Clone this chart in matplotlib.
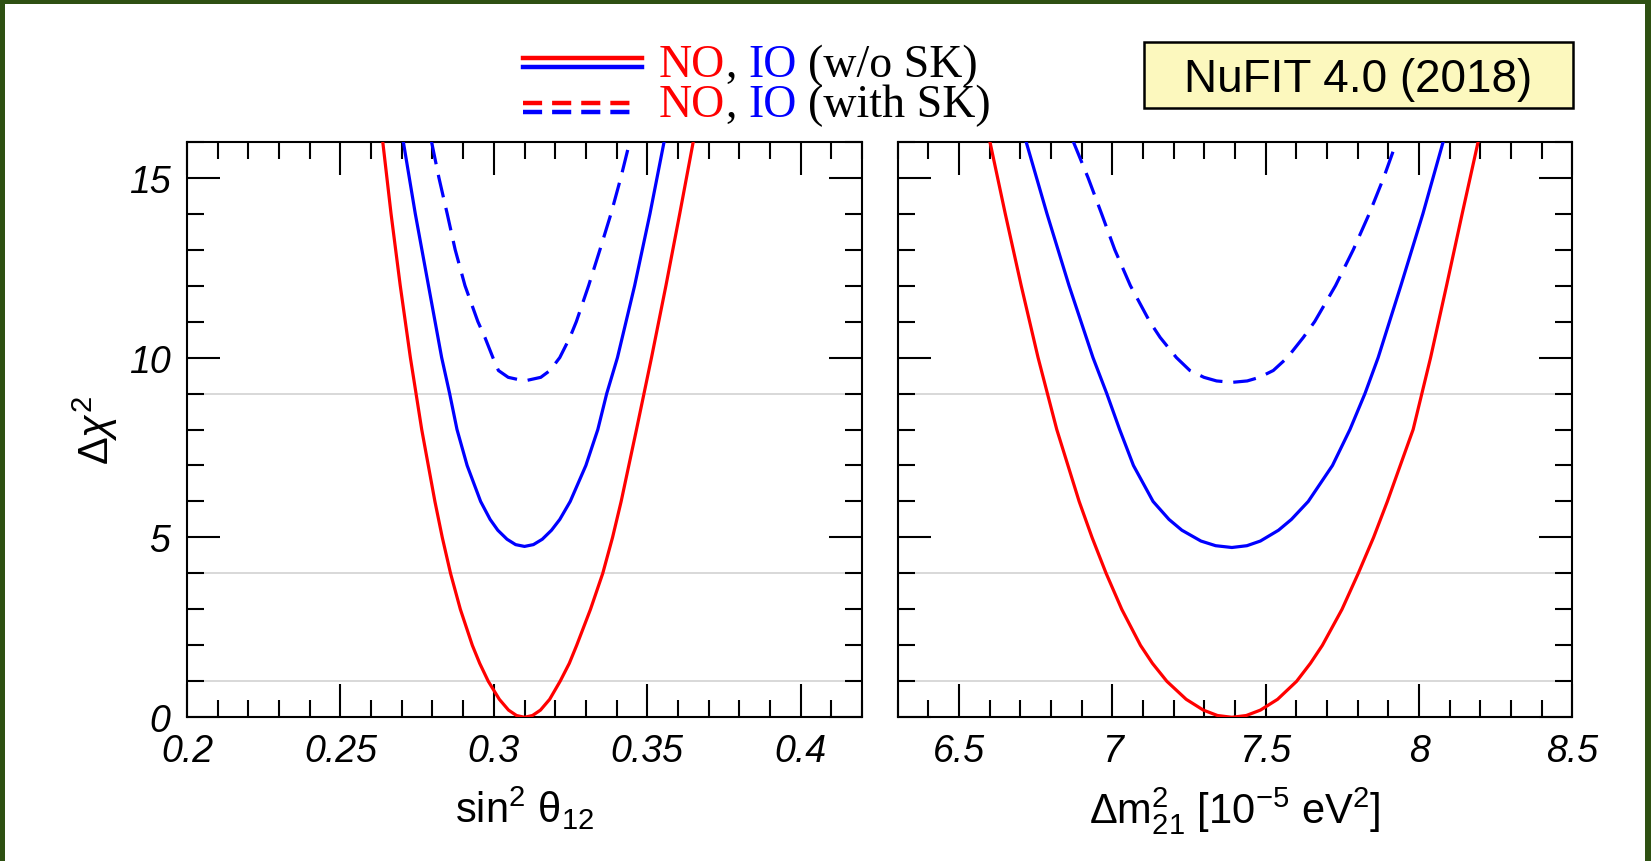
import matplotlib
matplotlib.use('Agg')
import matplotlib.pyplot as plt
from matplotlib.patches import Rectangle
from matplotlib.lines import Line2D
from matplotlib.ticker import MultipleLocator

plt.rcParams['font.family'] = ['Liberation Sans', 'DejaVu Sans']
plt.rcParams['mathtext.fontset'] = 'custom'
plt.rcParams['mathtext.rm'] = 'Liberation Sans'
plt.rcParams['mathtext.it'] = 'Liberation Sans:italic'
plt.rcParams['mathtext.bf'] = 'Liberation Sans:bold'

# ---------------- data ----------------
# left panel: sin^2 theta_12
s12_no_x = [0.2638, 0.2665, 0.2695, 0.2728, 0.2765, 0.2808, 0.2832, 0.2859, 0.2891, 0.2930,
            0.2954, 0.2982, 0.3018, 0.3048, 0.3074, 0.3100,
            0.3126, 0.3152, 0.3182, 0.3216, 0.3246, 0.3270, 0.3315, 0.3355, 0.3387, 0.3415,
            0.3465, 0.3514, 0.3561, 0.3606, 0.3650]
s12_no_y = [16, 14, 12, 10, 8, 6, 5, 4, 3, 2,
            1.5, 1, 0.5, 0.2, 0.05, 0,
            0.05, 0.2, 0.5, 1, 1.5, 2, 3, 4, 5, 6,
            8, 10, 12, 14, 16]

s12_io_x = [0.2705, 0.2744, 0.2787, 0.2830, 0.2856, 0.2880, 0.2913, 0.2957, 0.2988, 0.3013,
            0.3043, 0.3071, 0.3100,
            0.3129, 0.3158, 0.3188, 0.3215, 0.3249, 0.3300, 0.3339, 0.3368, 0.3403, 0.3459,
            0.3509, 0.3555]
s12_io_y = [16, 14, 12, 10, 9, 8, 7, 6, 5.5, 5.2,
            4.95, 4.8, 4.75,
            4.8, 4.95, 5.2, 5.5, 6, 7, 8, 9, 10, 12,
            14, 16]

s12_iosk_x = [0.2797, 0.2821, 0.2848, 0.2874, 0.2906, 0.2948, 0.2971, 0.2997, 0.3015, 0.3047,
              0.3100,
              0.3153, 0.3183, 0.3215, 0.3248, 0.3269, 0.3309, 0.3346, 0.3382, 0.3414, 0.3443]
s12_iosk_y = [16, 15, 14, 13, 12, 11, 10.56, 10, 9.64, 9.45,
              9.35,
              9.45, 9.64, 10, 10.56, 11, 12, 13, 14, 15, 16]

# right panel: Delta m^2_21 [1e-5 eV^2]
dm_no_x = [6.601, 6.651, 6.703, 6.758, 6.819, 6.892, 6.934, 6.980, 7.031, 7.092,
           7.131, 7.178, 7.241, 7.297, 7.343, 7.390,
           7.437, 7.483, 7.539, 7.601, 7.646, 7.685, 7.749, 7.802, 7.852, 7.897,
           7.981, 8.038, 8.090, 8.141, 8.193]
dm_no_y = [16, 14, 12, 10, 8, 6, 5, 4, 3, 2,
           1.5, 1, 0.5, 0.2, 0.05, 0,
           0.05, 0.2, 0.5, 1, 1.5, 2, 3, 4, 5, 6,
           8, 10, 12, 14, 16]

dm_io_x = [6.719, 6.787, 6.859, 6.937, 6.982, 7.024, 7.069, 7.133, 7.185, 7.227,
           7.289, 7.337, 7.390,
           7.439, 7.483, 7.542, 7.584, 7.639, 7.718, 7.775, 7.824, 7.867, 7.941,
           8.013, 8.079]
dm_io_y = [16, 14, 12, 10, 9, 8, 7, 6, 5.5, 5.2,
           4.9, 4.77, 4.72,
           4.77, 4.9, 5.2, 5.5, 6, 7, 8, 9, 10, 12,
           14, 16]

dm_iosk_x = [6.873, 6.921, 6.965, 7.008, 7.059, 7.122, 7.156, 7.209, 7.253, 7.299, 7.340,
             7.390,
             7.440, 7.480, 7.525, 7.571, 7.623, 7.660, 7.728, 7.786, 7.838, 7.885, 7.927]
dm_iosk_y = [16, 15, 14, 13, 12, 11, 10.56, 10, 9.64, 9.45, 9.35,
             9.31,
             9.35, 9.45, 9.64, 10, 10.56, 11, 12, 13, 14, 15, 16]

chi_levels = [1, 4, 9]
chi_ticks = [0, 5, 10, 15]
chi_ticklabels = ['0', '5', '10', '15']
s12_ticks = [0.2, 0.25, 0.3, 0.35, 0.4]
s12_ticklabels = ['0.2', '0.25', '0.3', '0.35', '0.4']
dm_ticks = [6.5, 7.0, 7.5, 8.0, 8.5]
dm_ticklabels = ['6.5', '7', '7.5', '8', '8.5']

RED = '#ff0000'
BLUE = '#0000ff'
GREEN = '#2e5012'

W, H, DPI = 1651, 862, 100
fig = plt.figure(figsize=(W / DPI, H / DPI), dpi=DPI)
fig.patch.set_facecolor(GREEN)
fig.add_artist(Rectangle((5 / W, 0), (W - 11) / W, (H - 5) / H, transform=fig.transFigure,
                         facecolor='white', edgecolor='none', zorder=-5))


def fx(x):
    return x / W


def fy(y):
    return 1 - y / H


ax_top, ax_bot = 142.7, 718.3
axh = (ax_bot - ax_top) / H
ax1 = fig.add_axes([fx(187), fy(ax_bot), 675 / W, axh])
ax2 = fig.add_axes([fx(897.6), fy(ax_bot), (1572.3 - 897.6) / W, axh])

LW = 2.3
DASH = (0, (7.2, 3.4))
TFS = 27


def style(ax, xlim, xticks, xlabels, minor):
    ax.set_xlim(*xlim)
    ax.set_ylim(0, 16)
    for lev in chi_levels:
        ax.axhline(lev, color='#d8d8d8', lw=1.4, zorder=1)
    ax.set_xticks(xticks, xlabels, fontstyle='italic', fontsize=TFS)
    ax.xaxis.set_minor_locator(MultipleLocator(minor))
    ax.yaxis.set_minor_locator(MultipleLocator(1))
    ax.tick_params(which='both', direction='in', top=True, right=True, width=1.5, color='black')
    ax.tick_params(which='major', length=24)
    ax.tick_params(axis='x', which='major', pad=11)
    ax.tick_params(axis='y', which='major', pad=12)
    ax.tick_params(which='minor', length=12)
    for sp in ax.spines.values():
        sp.set_linewidth(1.5)


style(ax1, (0.2, 0.42), s12_ticks, s12_ticklabels, 0.01)
style(ax2, (6.3, 8.5), dm_ticks, dm_ticklabels, 0.1)
ax1.set_yticks(chi_ticks, chi_ticklabels, fontstyle='italic', fontsize=TFS)
ax2.set_yticks(chi_ticks, [])

ax1.plot(s12_iosk_x, s12_iosk_y, color=BLUE, lw=LW, ls=DASH, zorder=3)
ax1.plot(s12_io_x, s12_io_y, color=BLUE, lw=LW, zorder=3)
ax1.plot(s12_no_x, s12_no_y, color=RED, lw=LW, zorder=4)
ax2.plot(dm_iosk_x, dm_iosk_y, color=BLUE, lw=LW, ls=DASH, zorder=3)
ax2.plot(dm_io_x, dm_io_y, color=BLUE, lw=LW, zorder=3)
ax2.plot(dm_no_x, dm_no_y, color=RED, lw=LW, zorder=4)

ax1.set_ylabel(r'$Δχ^{2}$', fontsize=30)
ax1.yaxis.set_label_coords(-0.100, 0.5)
ax1.set_xlabel(r'$\mathrm{sin}^{2}\ \mathrm{θ}_{12}$', fontsize=30)
ax1.xaxis.set_label_coords(0.5, -0.116)
ax2.set_xlabel(r'$Δ\mathrm{m}^{2}_{21}\ [10^{-5}\ \mathrm{eV}^{2}]$', fontsize=30)
ax2.xaxis.set_label_coords(0.5, -0.116)

# ---------------- legend (top centre) ----------------
LLW = 3.2
fig.add_artist(Line2D([fx(523), fx(642)], [fy(58.5)] * 2, color=RED, lw=LLW, transform=fig.transFigure))
fig.add_artist(Line2D([fx(523), fx(642)], [fy(68.0)] * 2, color=BLUE, lw=LLW, transform=fig.transFigure))
fig.add_artist(Line2D([fx(523), fx(632)], [fy(103.8)] * 2, color=RED, lw=LLW,
                      ls=(0, (4.3, 2.25)), transform=fig.transFigure))
fig.add_artist(Line2D([fx(523), fx(632)], [fy(112.8)] * 2, color=BLUE, lw=LLW,
                      ls=(0, (4.3, 2.25)), transform=fig.transFigure))

renderer = fig.canvas.get_renderer()
LFS = 33
space = 0.25 * LFS * DPI / 72


def chain(x, y, pieces):
    for txt, col, gap in pieces:
        t = fig.text(fx(x), fy(y), txt, color=col, fontsize=LFS,
                     family=['Liberation Serif', 'DejaVu Serif'], ha='left', va='baseline')
        bb = t.get_window_extent(renderer)
        x = bb.x1 + gap


chain(659, 76.7, [('NO', RED, 0), (',', 'black', space), ('IO', BLUE, space), ('(w/o SK)', 'black', 0)])
chain(659, 116.7, [('NO', RED, 0), (',', 'black', space), ('IO', BLUE, space), ('(with SK)', 'black', 0)])

# ---------------- NuFIT box ----------------
fig.add_artist(Rectangle((fx(1144), fy(108.5)), (1572.5 - 1144) / W, (108.5 - 43) / H,
                         transform=fig.transFigure, facecolor='#fcf8be', edgecolor='black', lw=1.8))
fig.text(fx(1358.3), fy(92.5), 'NuFIT 4.0 (2018)', fontsize=33, ha='center', va='baseline', color='black')

fig.savefig('out.png', dpi=DPI, facecolor=fig.get_facecolor())
